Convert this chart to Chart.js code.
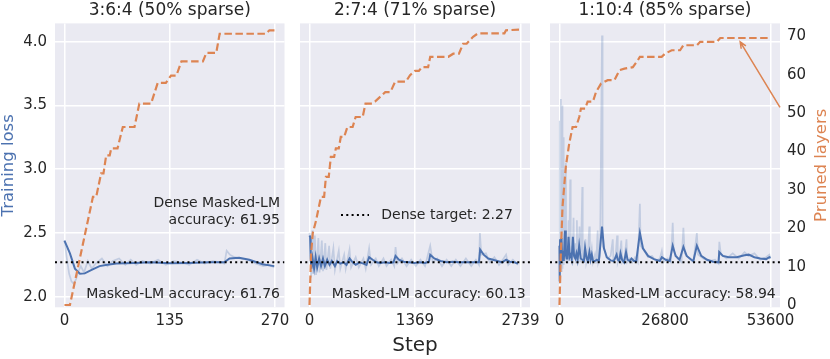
<!DOCTYPE html>
<html>
<head>
<meta charset="utf-8">
<script src="https://cdn.jsdelivr.net/npm/chart.js@4.4.0/dist/chart.umd.min.js"></script>
<style>
  html, body { margin: 0; padding: 0; background: #fff; }
  #wrap { position: relative; width: 830px; height: 359px; }
  .panel { position: absolute; top: 0; height: 359px; }
</style>
</head>
<body>
<div id="wrap">
  <div class="panel" style="left:0;width:290px"><canvas id="c1" width="290" height="359"></canvas></div>
  <div class="panel" style="left:290px;width:250px"><canvas id="c2" width="250" height="359"></canvas></div>
  <div class="panel" style="left:540px;width:290px"><canvas id="c3" width="290" height="359"></canvas></div>
</div>
<script>
// ---- data ----
const titles = ["3:6:4 (50% sparse)", "2:7:4 (71% sparse)", "1:10:4 (85% sparse)"];
const xTicks1 = [0, 135, 270];
const xTicks2 = [0, 1369, 2739];
const xTicks3 = [0, 26800, 53600];
const lossTicks = [2.0, 2.5, 3.0, 3.5, 4.0];
const prunedTicks = [0, 10, 20, 30, 40, 50, 60, 70];
const denseTarget = 2.27;
const accuracy = ["61.76", "60.13", "58.94"];
const denseAccuracy = "61.95";

// pruned layers (orange, right axis)
const prunedStep1 = [0, 7, 36.5, 40.7, 47, 50, 53.5, 58, 60, 68, 74.8, 89.8, 96, 111, 119.6, 130, 136.6, 143.5, 150, 177.5, 182, 194.6, 199, 258.5, 262.8, 270];
const pruned1 = [0, 0, 28.2, 28.2, 34.3, 34.3, 39, 39, 40.8, 40.8, 46.4, 46.4, 52.5, 52.5, 57.9, 57.9, 59.8, 59.8, 63.5, 63.5, 65.7, 65.7, 70.7, 70.7, 71.6, 71.6];
const prunedStep2 = [0, 21, 42, 85, 149, 190, 213, 250, 277, 320, 342, 380, 406, 450, 492, 560, 599, 690, 727, 810, 850, 984, 1050, 1112, 1250, 1305, 1369, 1420, 1459, 1540, 1567, 1802, 1866, 1940, 1994, 2040, 2080, 2123, 2187, 2530, 2551, 2739];
const pruned2 = [0, 13.5, 18.7, 22, 28.2, 28.2, 33.4, 33.4, 38.6, 38.6, 40.8, 40.8, 43.8, 43.8, 46.4, 46.4, 49, 49, 52.5, 52.5, 53, 55.5, 55.5, 58.2, 58.2, 59.9, 61, 61, 62, 62, 64.7, 64.7, 65.5, 65.5, 68.1, 68.1, 69, 69.9, 70.8, 70.8, 71.6, 71.8];
const prunedStep3 = [0, 340, 766, 1600, 2470, 3318, 4200, 5020, 5440, 6500, 7150, 8500, 9270, 10540, 12250, 13960, 15230, 16500, 18630, 19910, 20420, 25950, 26800, 28510, 30630, 31470, 34890, 35730, 39990, 40840, 53600];
const pruned3 = [0, 13.5, 25.6, 36, 42.1, 46.4, 46.4, 49, 51.2, 51.2, 53, 53, 55.5, 57.7, 58.6, 58.6, 61.2, 61.6, 62, 63.8, 64.7, 64.7, 65.5, 66.4, 66.4, 67.7, 67.7, 68.6, 68.6, 69.6, 69.6];

// smoothed training loss (blue)
const lossStep1 = [0, 7, 13.4, 19.8, 26, 34.8, 45, 55, 66.8, 90, 110, 135, 160, 185, 205, 211.6, 224, 237, 254, 269];
const loss1 = [2.44, 2.34, 2.22, 2.18, 2.183, 2.21, 2.24, 2.25, 2.26, 2.265, 2.27, 2.262, 2.265, 2.27, 2.27, 2.30, 2.305, 2.29, 2.255, 2.24];
const lossStep2 = [0, 8, 15, 25, 40, 60, 80, 100, 125, 150, 175, 200, 230, 260, 290, 330, 360, 400, 440, 480, 520, 560, 600, 650, 700, 740, 774, 820, 870, 920, 980, 1040, 1090, 1117, 1160, 1220, 1290, 1360, 1430, 1500, 1550, 1567, 1620, 1700, 1780, 1860, 1940, 2020, 2100, 2180, 2200, 2215, 2260, 2320, 2380, 2440, 2500, 2552, 2600, 2660, 2705];
const loss2 = [2.48, 2.47, 2.30, 2.22, 2.30, 2.22, 2.31, 2.23, 2.30, 2.24, 2.30, 2.24, 2.29, 2.25, 2.28, 2.24, 2.28, 2.26, 2.27, 2.25, 2.30, 2.27, 2.25, 2.27, 2.26, 2.25, 2.31, 2.29, 2.27, 2.265, 2.27, 2.265, 2.27, 2.32, 2.29, 2.275, 2.27, 2.265, 2.27, 2.265, 2.275, 2.33, 2.30, 2.28, 2.27, 2.275, 2.27, 2.27, 2.27, 2.27, 2.27, 2.37, 2.33, 2.30, 2.29, 2.28, 2.27, 2.29, 2.275, 2.27, 2.26];
const lossStep3 = [0, 60, 150, 300, 500, 700, 900, 1100, 1400, 1600, 1800, 2000, 2300, 2600, 2900, 3100, 3400, 3700, 4000, 4300, 4600, 5000, 5400, 5800, 6200, 6500, 6900, 7200, 7600, 7900, 8200, 8500, 9000, 9500, 10000, 10800, 11300, 12000, 13000, 13800, 14500, 14800, 15200, 15500, 15900, 16400, 16900, 17300, 17800, 18300, 18900, 19500, 20420, 21200, 22500, 24000, 25500, 26000, 27000, 28000, 28760, 29500, 30500, 31470, 32300, 33500, 34000, 34890, 36000, 37500, 39000, 40400, 40580, 41500, 43000, 45000, 47000, 48070, 49500, 51000, 52500, 53300, 53600];
const loss3 = [2.40, 2.12, 2.45, 2.30, 2.46, 2.28, 2.36, 2.28, 2.52, 2.33, 2.30, 2.30, 2.47, 2.31, 2.33, 2.30, 2.47, 2.32, 2.30, 2.34, 2.29, 2.40, 2.30, 2.29, 2.28, 2.38, 2.30, 2.28, 2.35, 2.29, 2.33, 2.28, 2.28, 2.29, 2.28, 2.55, 2.38, 2.31, 2.285, 2.28, 2.33, 2.29, 2.28, 2.34, 2.29, 2.27, 2.35, 2.29, 2.28, 2.30, 2.28, 2.28, 2.50, 2.38, 2.32, 2.295, 2.28, 2.31, 2.29, 2.28, 2.40, 2.32, 2.29, 2.39, 2.32, 2.29, 2.28, 2.40, 2.32, 2.29, 2.275, 2.27, 2.35, 2.32, 2.31, 2.31, 2.325, 2.33, 2.31, 2.30, 2.295, 2.31, 2.305];

// raw training loss (faint blue)
const rawStep1 = [0, 3, 6, 9, 12, 15, 18, 21, 25, 30, 35, 40, 48, 55, 62, 70, 78, 85, 92, 100, 110, 120, 130, 140, 150, 160, 170, 180, 190, 200, 205, 208, 212, 218, 225, 235, 245, 255, 262, 269];
const raw1 = [2.44, 2.30, 2.18, 2.12, 2.10, 2.14, 2.20, 2.24, 2.19, 2.28, 2.22, 2.26, 2.30, 2.24, 2.28, 2.30, 2.25, 2.29, 2.25, 2.28, 2.26, 2.29, 2.25, 2.28, 2.27, 2.25, 2.29, 2.26, 2.28, 2.27, 2.26, 2.36, 2.33, 2.31, 2.30, 2.29, 2.26, 2.24, 2.25, 2.23];
const rawStep2 = [0, 10, 20, 35, 45, 70, 85, 115, 130, 160, 175, 205, 220, 255, 270, 310, 330, 380, 400, 450, 470, 520, 540, 600, 640, 700, 730, 774, 800, 860, 900, 960, 1000, 1060, 1100, 1117, 1140, 1200, 1260, 1320, 1380, 1440, 1500, 1567, 1600, 1660, 1720, 1780, 1840, 1900, 1960, 2030, 2100, 2160, 2200, 2212, 2230, 2290, 2340, 2400, 2460, 2520, 2552, 2580, 2640, 2705];
const raw2 = [2.50, 2.45, 2.15, 2.52, 2.18, 2.48, 2.17, 2.46, 2.19, 2.44, 2.20, 2.42, 2.21, 2.40, 2.22, 2.38, 2.21, 2.36, 2.22, 2.33, 2.22, 2.37, 2.23, 2.31, 2.23, 2.30, 2.22, 2.38, 2.25, 2.30, 2.24, 2.30, 2.24, 2.29, 2.24, 2.39, 2.26, 2.30, 2.24, 2.29, 2.24, 2.29, 2.24, 2.40, 2.27, 2.30, 2.24, 2.29, 2.24, 2.29, 2.24, 2.30, 2.24, 2.29, 2.25, 2.50, 2.33, 2.34, 2.27, 2.31, 2.25, 2.30, 2.33, 2.25, 2.29, 2.25];
const rawStep3 = [0, 30, 60, 120, 200, 340, 420, 550, 680, 760, 900, 1020, 1100, 1300, 1620, 1700, 1900, 2100, 2300, 2450, 2720, 2850, 3100, 3300, 3570, 3700, 4000, 4200, 4420, 4550, 4800, 5100, 5250, 5500, 5790, 5900, 6300, 6600, 6800, 7200, 7570, 7700, 8200, 8500, 9000, 9300, 9700, 9850, 10300, 10800, 10950, 11500, 12200, 13000, 13530, 13700, 14200, 14640, 14800, 15300, 15700, 15900, 16500, 17020, 17200, 17900, 18500, 19200, 19900, 20420, 20600, 21500, 22500, 23500, 24500, 25500, 26000, 26400, 27500, 28300, 28760, 29000, 30000, 31000, 31470, 31800, 33000, 34000, 34890, 35200, 36500, 38000, 39500, 40400, 40600, 41000, 42500, 44000, 45500, 47000, 48000, 49500, 51000, 52500, 53300, 53600];
const raw3 = [2.40, 2.10, 3.38, 2.15, 2.60, 3.55, 2.20, 2.45, 3.50, 2.22, 2.50, 3.25, 2.25, 2.45, 3.05, 2.28, 2.40, 2.26, 2.60, 2.28, 2.92, 2.28, 2.40, 2.27, 2.62, 2.30, 2.42, 2.27, 2.60, 2.28, 2.38, 2.55, 2.27, 2.40, 2.86, 2.28, 2.35, 2.45, 2.27, 2.33, 2.55, 2.27, 2.38, 2.27, 2.33, 2.26, 2.52, 2.27, 2.32, 4.05, 2.40, 2.36, 2.30, 2.32, 2.45, 2.28, 2.30, 2.48, 2.27, 2.32, 2.44, 2.27, 2.30, 2.45, 2.27, 2.30, 2.27, 2.31, 2.27, 2.73, 2.40, 2.36, 2.31, 2.32, 2.28, 2.30, 2.36, 2.27, 2.30, 2.27, 2.58, 2.36, 2.30, 2.27, 2.54, 2.34, 2.30, 2.27, 2.50, 2.33, 2.30, 2.28, 2.29, 2.26, 2.43, 2.33, 2.30, 2.34, 2.30, 2.35, 2.32, 2.34, 2.29, 2.31, 2.33, 2.30];

// ---- style ----
const FONT = "'DejaVu Sans', sans-serif";
const INK = '#262626';
const BLUE = '#4c72b0';
const ORANGE = '#dd8452';
const PANEL_BG = '#eaeaf2';
const lossMin = 1.917, lossMax = 4.144;
const prunedMin = -0.6, prunedMax = 73.4;

const pts = (xs, ys) => xs.map((x, i) => ({x: x, y: ys[i]}));

const panelBg = {
    id: 'panelBg',
    beforeDraw(chart) {
        const {ctx, chartArea: a} = chart;
        ctx.save();
        ctx.fillStyle = PANEL_BG;
        ctx.fillRect(a.left, a.top, a.right - a.left, a.bottom - a.top);
        ctx.restore();
    }
};

function notesPlugin(drawFn) {
    return {
        id: 'notes',
        afterDatasetsDraw(chart) {
            const ctx = chart.ctx;
            ctx.save();
            ctx.fillStyle = INK;
            ctx.font = "14px " + FONT;
            ctx.textBaseline = 'middle';
            drawFn(chart, ctx, chart.chartArea);
            ctx.restore();
        }
    };
}

function makePanel(id, cfg) {
    const xMin = cfg.xTicks[0] - cfg.xTicks[2] * 0.045;
    const xMax = cfg.xTicks[2] * 1.045;
    return new Chart(document.getElementById(id), {
        type: 'line',
        data: {
            datasets: [
                {
                    data: pts(cfg.prunedX, cfg.pruned), yAxisID: 'y2',
                    borderColor: ORANGE, borderWidth: 2.2, borderDash: [7.5, 3.5], pointRadius: 0
                },
                {
                    data: [{x: xMin, y: denseTarget}, {x: xMax, y: denseTarget}], yAxisID: 'y',
                    borderColor: '#000', borderWidth: 2, borderDash: [2, 3.3], pointRadius: 0
                },
                {
                    data: pts(cfg.lossX, cfg.loss), yAxisID: 'y',
                    borderColor: BLUE, borderWidth: 2, pointRadius: 0
                },
                {
                    data: pts(cfg.rawX, cfg.raw), yAxisID: 'y',
                    borderColor: 'rgba(76,114,176,0.25)', borderWidth: 1.7, pointRadius: 0
                }
            ]
        },
        options: {
            responsive: false,
            animation: false,
            layout: { padding: cfg.padding },
            plugins: {
                legend: { display: false },
                tooltip: { enabled: false },
                title: {
                    display: true, text: cfg.title, fullSize: false, color: INK,
                    font: { family: FONT, size: 17, weight: 'normal', lineHeight: 1.2 },
                    padding: { top: 0, bottom: 3 }
                }
            },
            scales: {
                x: {
                    type: 'linear', min: xMin, max: xMax,
                    afterBuildTicks: s => { s.ticks = cfg.xTicks.map(v => ({value: v})); },
                    afterFit: s => { s.height = 51.7; s.paddingLeft = 0; s.paddingRight = 0; },
                    grid: { color: '#fff', lineWidth: 1.5, drawTicks: false },
                    border: { display: false },
                    ticks: {
                        color: INK, font: { family: FONT, size: 15 }, padding: 5,
                        maxRotation: 0, autoSkip: false, callback: v => String(v)
                    },
                    title: {
                        display: cfg.showStep, text: 'Step', color: INK,
                        font: { family: FONT, size: 20, lineHeight: 1.2 }, padding: { top: 0, bottom: 1 }
                    }
                },
                y: {
                    position: 'left', min: lossMin, max: lossMax,
                    afterBuildTicks: s => { s.ticks = lossTicks.map(v => ({value: v})); },
                    afterFit: s => { s.width = cfg.leftWidth; s.paddingTop = 0; s.paddingBottom = 0; },
                    grid: { color: '#fff', lineWidth: 1.5, drawTicks: false },
                    border: { display: false },
                    ticks: {
                        display: cfg.showLeft, color: INK, font: { family: FONT, size: 15 }, padding: 8,
                        callback: v => v.toFixed(1)
                    },
                    title: {
                        display: cfg.showLeft, text: 'Training loss', color: BLUE,
                        font: { family: FONT, size: 16.5, lineHeight: 1 }, padding: 0
                    }
                },
                y2: {
                    position: 'right', display: cfg.showRight, min: prunedMin, max: prunedMax,
                    afterBuildTicks: s => { s.ticks = prunedTicks.map(v => ({value: v})); },
                    afterFit: s => { s.width = cfg.showRight ? 50 : 0; s.paddingTop = 0; s.paddingBottom = 0; },
                    grid: { display: false, drawTicks: false },
                    border: { display: false },
                    ticks: { color: INK, font: { family: FONT, size: 15 }, padding: 7 }
                }
            }
        },
        plugins: [panelBg, notesPlugin(cfg.notes)]
    });
}

makePanel('c1', {
    title: titles[0], xTicks: xTicks1,
    prunedX: prunedStep1, pruned: pruned1, lossX: lossStep1, loss: loss1, rawX: rawStep1, raw: raw1,
    padding: { left: 0, right: 5.5, top: 0, bottom: 0 },
    leftWidth: 55, showLeft: true, showRight: false, showStep: false,
    notes: (chart, ctx, a) => {
        ctx.textAlign = 'right';
        ctx.fillText('Dense Masked-LM', a.right - 4.5, a.bottom - 103.5);
        ctx.fillText('accuracy: ' + denseAccuracy, a.right - 4.5, a.bottom - 87);
        ctx.fillText('Masked-LM accuracy: ' + accuracy[0], a.right - 4.5, a.bottom - 12.5);
    }
});

makePanel('c2', {
    title: titles[1], xTicks: xTicks2,
    prunedX: prunedStep2, pruned: pruned2, lossX: lossStep2, loss: loss2, rawX: rawStep2, raw: raw2,
    padding: { left: 10, right: 10, top: 0, bottom: 0 },
    leftWidth: 0, showLeft: false, showRight: false, showStep: true,
    notes: (chart, ctx, a) => {
        const ly = a.bottom - 92.3;
        ctx.save();
        ctx.strokeStyle = '#000';
        ctx.lineWidth = 2;
        ctx.setLineDash([2, 3.3]);
        ctx.beginPath();
        ctx.moveTo(a.left + 41, ly);
        ctx.lineTo(a.left + 69, ly);
        ctx.stroke();
        ctx.restore();
        ctx.textAlign = 'left';
        ctx.fillText('Dense target: ' + denseTarget, a.left + 81.3, ly);
        ctx.textAlign = 'right';
        ctx.fillText('Masked-LM accuracy: ' + accuracy[1], a.right - 4.3, a.bottom - 13);
    }
});

makePanel('c3', {
    title: titles[2], xTicks: xTicks3,
    prunedX: prunedStep3, pruned: pruned3, lossX: lossStep3, loss: loss3, rawX: rawStep3, raw: raw3,
    padding: { left: 10, right: 0, top: 0, bottom: 0 },
    leftWidth: 0, showLeft: false, showRight: true, showStep: false,
    notes: (chart, ctx, a) => {
        ctx.textAlign = 'right';
        ctx.fillText('Masked-LM accuracy: ' + accuracy[2], a.right - 4.3, a.bottom - 13);

        // arrow pointing at the final pruned-layer count
        const sx = chart.scales.x, sy = chart.scales.y2;
        const tipX = sx.getPixelForValue(45900), tipY = sy.getPixelForValue(68.6);
        const tailX = a.right, tailY = sy.getPixelForValue(51.5);
        const ang = Math.atan2(tailY - tipY, tailX - tipX);
        ctx.save();
        ctx.strokeStyle = ORANGE;
        ctx.lineWidth = 1.5;
        ctx.beginPath();
        ctx.moveTo(tailX, tailY);
        ctx.lineTo(tipX, tipY);
        ctx.moveTo(tipX + 7 * Math.cos(ang + 0.4), tipY + 7 * Math.sin(ang + 0.4));
        ctx.lineTo(tipX, tipY);
        ctx.lineTo(tipX + 7 * Math.cos(ang - 0.4), tipY + 7 * Math.sin(ang - 0.4));
        ctx.stroke();
        ctx.restore();

        // right axis label
        ctx.save();
        ctx.fillStyle = ORANGE;
        ctx.font = "16.5px " + FONT;
        ctx.textAlign = 'center';
        ctx.translate(a.right + 41.7, (a.top + a.bottom) / 2);
        ctx.rotate(-Math.PI / 2);
        ctx.fillText('Pruned layers', 0, 0);
        ctx.restore();
    }
});
</script>
</body>
</html>
